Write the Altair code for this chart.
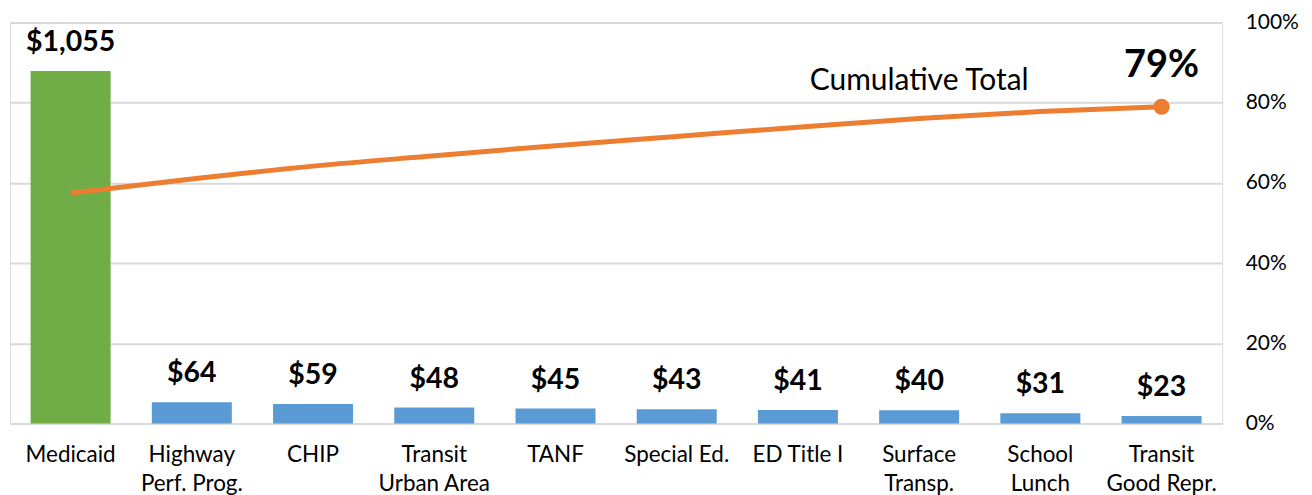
import altair as alt
import pandas as pd

categories = ["Medicaid", "Highway|Perf. Prog.", "CHIP", "Transit|Urban Area", "TANF",
              "Special Ed.", "ED Title I", "Surface|Transp.", "School|Lunch", "Transit|Good Repr."]
values = [1055, 64, 59, 48, 45, 43, 41, 40, 31, 23]
cumulative = [0.575, 0.610, 0.642, 0.668, 0.693, 0.716, 0.739, 0.761, 0.778, 0.790]

FONT = "Lato"
GREEN = "#70AD47"
BLUE = "#5B9BD5"
ORANGE = "#ED7D31"
GRID = "#D9D9D9"

df = pd.DataFrame({"category": categories, "value": values, "cum": cumulative})
last = df.tail(1)
note = pd.DataFrame({"category": ["Surface|Transp."], "cum": [0.853], "label": ["Cumulative Total"]})

xenc = alt.X("category:N", sort=categories, title=None,
             scale=alt.Scale(paddingInner=0.34, paddingOuter=0.17),
             axis=alt.Axis(labelAngle=0, labelExpr="split(datum.label, '|')",
                           labelFontSize=22.5, labelFont=FONT, labelColor="#000000",
                           labelPadding=31, labelLineHeight=29, ticks=False,
                           domainColor=GRID, domainWidth=2, labelBaseline="middle"))

ybar = alt.Y("value:Q", scale=alt.Scale(domain=[0, 1200]), axis=None)

bars = alt.Chart(df).mark_bar().encode(
    x=xenc, y=ybar,
    color=alt.condition(alt.datum.category == "Medicaid", alt.value(GREEN), alt.value(BLUE)),
)
bar_text = alt.Chart(df).mark_text(fontSize=28.5, fontWeight="bold", font=FONT, dy=-20,
                                   baseline="alphabetic", color="#000000").encode(
    x=xenc, y=ybar, text=alt.Text("value:Q", format="$,.0f"))

ycum = alt.Y("cum:Q", scale=alt.Scale(domain=[0, 1]),
             axis=alt.Axis(orient="right", format=".0%", values=[0, 0.2, 0.4, 0.6, 0.8, 1.0],
                           grid=True, gridColor=GRID, gridWidth=2, domain=False, ticks=False,
                           labelFontSize=21, labelFont=FONT, labelColor="#000000",
                           labelPadding=23, title=None))

line = alt.Chart(df).mark_line(color=ORANGE, strokeWidth=5, interpolate="monotone").encode(
    x=xenc, y=ycum)
point = alt.Chart(last).mark_circle(color=ORANGE, size=260, opacity=1).encode(x=xenc, y=ycum)
pct_text = alt.Chart(last).mark_text(fontSize=38, fontWeight="bold", font=FONT, dy=-30,
                                     baseline="alphabetic", color="#000000").encode(
    x=xenc, y=ycum, text=alt.Text("cum:Q", format=".0%"))
note_text = alt.Chart(note).mark_text(fontSize=30, font=FONT, baseline="middle",
                                      color="#000000").encode(
    x=xenc, y=ycum, text="label:N")

chart = alt.layer(
    alt.layer(bars, bar_text),
    alt.layer(line, point, pct_text, note_text),
).resolve_scale(y="independent").properties(
    width=1215, height=402,
    padding={"left": 2, "top": 3, "right": 5, "bottom": 5},
).configure_view(stroke=None).configure(font=FONT)

chart.save("out.html", embed_options={"renderer": "svg", "actions": False})
